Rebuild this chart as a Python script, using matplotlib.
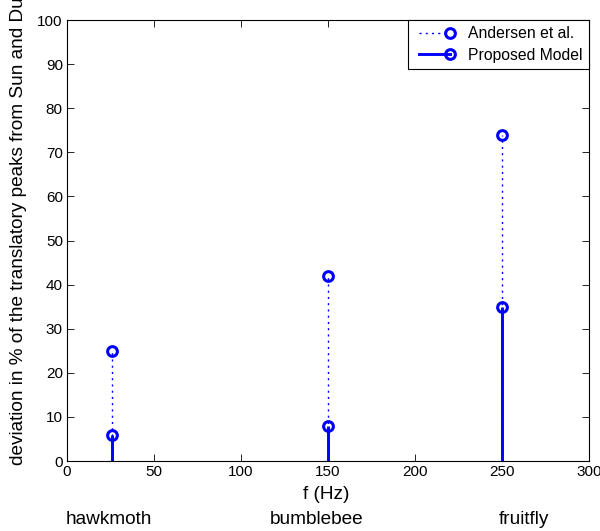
import matplotlib
matplotlib.use("Agg")
import matplotlib.pyplot as plt
from matplotlib.lines import Line2D
from matplotlib.legend_handler import HandlerLine2D

plt.rcParams['font.family'] = ['Liberation Sans', 'DejaVu Sans']

# data
freqs = [26, 150, 250]
insects = ['hawkmoth', 'bumblebee', 'fruitfly']
andersen = [25, 42, 74]
proposed = [6, 8, 35]
insect_label_x = [23.8, 143.4, 262.6]

fig = plt.figure(figsize=(6.0, 5.31), dpi=100)
ax = fig.add_axes([0.1117, 0.1318, 0.870, 0.8305])

blue = '#0000ff'
dot_ls = (0, (1.5, 3.0))
ml, sl, bl = ax.stem(freqs, andersen, basefmt=' ')
sl.set_color(blue); sl.set_linestyle(dot_ls); sl.set_linewidth(1.0)
ml.set_marker('o'); ml.set_markerfacecolor('none'); ml.set_markeredgecolor(blue)
ml.set_markeredgewidth(2.2); ml.set_markersize(7)

ml2, sl2, bl2 = ax.stem(freqs, proposed, basefmt=' ')
sl2.set_color(blue); sl2.set_linestyle('-'); sl2.set_linewidth(2.1)
ml2.set_marker('o'); ml2.set_markerfacecolor('none'); ml2.set_markeredgecolor(blue)
ml2.set_markeredgewidth(2.2); ml2.set_markersize(7)

ax.set_xlim(0, 300)
ax.set_ylim(0, 100)
ax.set_xticks(range(0, 301, 50))
ax.set_yticks(range(0, 101, 10))
ax.tick_params(direction='in', length=5, width=0.6, top=True, right=True,
               labelsize=11)
ax.tick_params(axis='x', pad=3.2)
ax.tick_params(axis='y', pad=3)
for s in ax.spines.values():
    s.set_linewidth(0.8)

ax.set_xlabel('f (Hz)', fontsize=13.7, va='center')
ax.xaxis.set_label_coords(0.497, -0.0748)
fig.text(18.4 / 600, 66 / 531,
         'deviation in % of the translatory peaks from Sun and Du (2003)',
         rotation=90, ha='center', va='bottom', fontsize=13.7)

for name, x in zip(insects, insect_label_x):
    ax.text(x, -(524 - 461) / 4.41, name, ha='center', va='baseline',
            fontsize=13.7, transform=ax.transData, clip_on=False)


class EndMarkerHandler(HandlerLine2D):
    def create_artists(self, legend, orig_handle, xdescent, ydescent,
                       width, height, fontsize, trans):
        arts = super().create_artists(legend, orig_handle, xdescent, ydescent,
                                      width, height, fontsize, trans)
        for a in arts:
            n = len(a.get_xdata())
            a.set_markevery([n - 1])
        return arts


h1 = Line2D([0, 1], [0, 0], color=blue, linestyle=dot_ls, linewidth=1.0,
            marker='o', markerfacecolor='none', markeredgecolor=blue,
            markeredgewidth=2.2, markersize=7)
h2 = Line2D([0, 1], [0, 0], color=blue, linestyle='-', linewidth=2.1,
            marker='o', markerfacecolor='none', markeredgecolor=blue,
            markeredgewidth=2.2, markersize=7)
leg = ax.legend([h1, h2], ['Andersen et al.', 'Proposed Model'], loc='upper right',
                handler_map={Line2D: EndMarkerHandler(numpoints=2)},
                fontsize=11.3, fancybox=False, edgecolor='black',
                framealpha=1, borderaxespad=0, handlelength=2.6,
                handletextpad=0.85, borderpad=0.4, labelspacing=0.4)
leg.get_frame().set_linewidth(0.8)

fig.savefig('out.png', dpi=100)
